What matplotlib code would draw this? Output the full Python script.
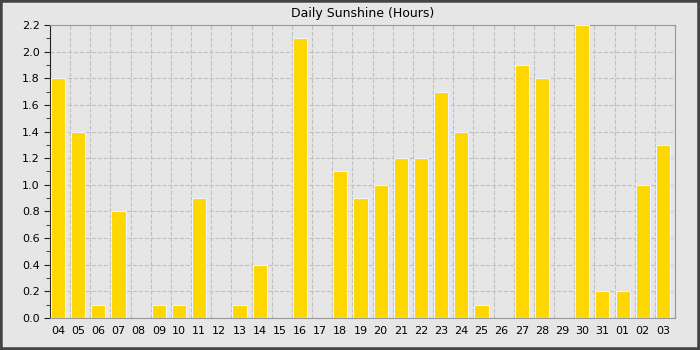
import numpy as np
import matplotlib.pyplot as plt
import matplotlib.patches as patches
from matplotlib.ticker import MultipleLocator, FixedLocator

days = ['04', '05', '06', '07', '08', '09', '10', '11', '12', '13', '14', '15',
        '16', '17', '18', '19', '20', '21', '22', '23', '24', '25', '26', '27',
        '28', '29', '30', '31', '01', '02', '03']
sunshine = [1.8, 1.4, 0.1, 0.8, 0.0, 0.1, 0.1, 0.9, 0.0, 0.1, 0.4, 0.0,
            2.1, 0.0, 1.1, 0.9, 1.0, 1.2, 1.2, 1.7, 1.4, 0.1, 0.0, 1.9,
            1.8, 0.0, 2.2, 0.2, 0.2, 1.0, 1.3]

fig = plt.figure(figsize=(7, 3.5), dpi=100)
fig.patch.set_facecolor('#e6e6e6')
ax = fig.add_axes((50 / 700, 32 / 350, 625 / 700, 293 / 350))
ax.set_facecolor('#e6e6e6')

x = np.arange(len(days))
ax.bar(x, sunshine, width=0.7, color='#ffd700', edgecolor='#eef4ff', linewidth=0.8, zorder=3)

ax.set_xlim(-0.4, len(days) - 0.4)
ax.set_ylim(0, 2.2)
ax.set_xticks(x)
ax.set_xticklabels(days, fontsize=8)
ax.xaxis.set_minor_locator(FixedLocator(x + 0.6))
ax.tick_params(axis='x', which='both', length=0, pad=6)
ax.yaxis.set_major_locator(MultipleLocator(0.2))
ax.yaxis.set_minor_locator(MultipleLocator(0.1))
ax.yaxis.set_major_formatter(plt.FormatStrFormatter('%.1f'))
ax.tick_params(axis='y', which='major', length=4, labelsize=8, color='#222222')
ax.tick_params(axis='y', which='minor', length=3, color='#222222')

ax.grid(True, axis='y', which='major', linestyle='--', color='#c0c0c0', linewidth=0.8, zorder=0)
ax.grid(True, axis='x', which='minor', linestyle='--', color='#c0c0c0', linewidth=0.8, zorder=0)

for side in ['top', 'right', 'bottom']:
    ax.spines[side].set_color('#999999')
ax.spines['left'].set_color('#222222')

ax.set_title('Daily Sunshine (Hours)', fontsize=9, pad=6)

# frame around the image
fig.patches.append(patches.Rectangle((0.003, 0.006), 0.994, 0.988, transform=fig.transFigure,
                                     fill=False, edgecolor='#ffffff', linewidth=1))
fig.patches.append(patches.Rectangle((0, 0), 1, 1, transform=fig.transFigure,
                                     fill=False, edgecolor='#444444', linewidth=4))

fig.savefig('out.png', dpi=100, facecolor=fig.get_facecolor())
